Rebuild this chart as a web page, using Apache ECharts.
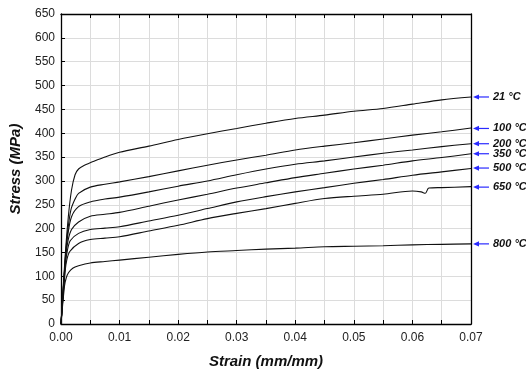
<!DOCTYPE html>
<html><head><meta charset="utf-8">
<script src="https://cdn.jsdelivr.net/npm/echarts@6/dist/echarts.min.js"></script>
<style>html,body{margin:0;padding:0;background:#fff}#c{width:526px;height:374px}</style>
</head><body><div id="c"></div>
<script>
const curveNames = ['21 °C','100 °C','200 °C','350 °C','500 °C','650 °C','800 °C'];
const c21 = [[0,0],[0.0007,140],[0.00125,225],[0.0018,281],[0.0024,313],[0.003,325],[0.004,333],[0.005,338],[0.0075,350],[0.01,360],[0.015,373],[0.02,387],[0.025,399],[0.03,410],[0.035,421],[0.04,431],[0.045,438],[0.05,446],[0.055,452],[0.06,461],[0.065,470],[0.07,476]];
const c100 = [[0,0],[0.0008,150],[0.0012,200],[0.0017,240],[0.0024,262],[0.003,274],[0.005,287],[0.0075,293],[0.01,298],[0.015,309],[0.02,321],[0.025,333],[0.03,344],[0.035,354],[0.04,365],[0.045,373],[0.05,380],[0.055,388],[0.06,396],[0.065,403],[0.07,411]];
const c200 = [[0,0],[0.0008,145],[0.0012,190],[0.0018,225],[0.003,246],[0.005,256],[0.0075,262],[0.01,266],[0.015,277],[0.02,289],[0.025,300],[0.03,313],[0.035,325],[0.04,335],[0.045,342],[0.05,350],[0.055,358],[0.06,365],[0.065,372],[0.07,378]];
const c350 = [[0,0],[0.0008,140],[0.0012,175],[0.0018,198],[0.003,214],[0.005,226],[0.0075,230],[0.01,234],[0.015,247],[0.02,260],[0.025,272],[0.03,285],[0.035,296],[0.04,307],[0.045,316],[0.05,325],[0.055,333],[0.06,342],[0.065,349],[0.07,357]];
const c500 = [[0,0],[0.0008,130],[0.0011,155],[0.0016,175],[0.003,190],[0.005,198],[0.0075,201],[0.01,204],[0.015,216],[0.02,228],[0.025,242],[0.03,256],[0.035,267],[0.04,277],[0.045,286],[0.05,295],[0.055,303],[0.06,312],[0.065,319],[0.07,326]];
const c650 = [[0,0],[0.0007,110],[0.001,135],[0.0015,152],[0.003,169],[0.005,177],[0.0075,180],[0.01,183],[0.015,195],[0.02,207],[0.025,221],[0.03,232],[0.035,242],[0.04,253],[0.045,263],[0.05,268],[0.055,272],[0.06,279],[0.0615,277],[0.0622,274],[0.0628,285],[0.065,286],[0.07,288]];
const c800 = [[0,0],[0.0006,80],[0.0009,97],[0.0013,108],[0.002,117],[0.003,122],[0.005,128],[0.0075,131],[0.01,134],[0.015,140],[0.02,146],[0.025,151],[0.03,154],[0.035,157],[0.04,159],[0.045,162],[0.05,163],[0.055,164],[0.06,166],[0.065,167],[0.07,168]];
const curves = [c21,c100,c200,c350,c500,c650,c800];
const labelValues = [476,410,378,357,327,287,168];

const chart = echarts.init(document.getElementById('c'), null, {renderer:'canvas'});
const font = 'Liberation Sans, Arial, sans-serif';
const lineSeries = curves.map((d,i)=>({
  type:'line', name:curveNames[i], data:d, showSymbol:false, symbol:'none',
  smooth:0.3,
  lineStyle:{color:'#111', width:1.1}, z:3, silent:true
}));
const labelSeries = {
  type:'custom', clip:false, silent:true, z:5,
  data: labelValues.map((v,i)=>[0.07, v, curveNames[i]]),
  renderItem:(params, api)=>{
    const p = api.coord([api.value(0), api.value(1)]);
    const x = p[0], y = p[1];
    const blue = '#2a2aff';
    return {type:'group', children:[
      {type:'line', shape:{x1:x+6, y1:y, x2:x+18, y2:y}, style:{stroke:blue, lineWidth:1.2}},
      {type:'polygon', shape:{points:[[x+2,y],[x+8,y-2.6],[x+8,y+2.6]]}, style:{fill:blue}},
      {type:'text', x:x+22, y:y, style:{text:curveNames[params.dataIndex], fill:'#111',
        font:'italic bold 11px '+font, verticalAlign:'middle', align:'left'}}
    ]};
  }
};
chart.setOption({
  animation:false,
  grid:{left:61, right:55, top:14, bottom:50, containLabel:false},
  xAxis:[{
    type:'value', min:0, max:0.07, interval:0.01, position:'bottom',
    name:'Strain (mm/mm)', nameLocation:'middle', nameGap:30,
    nameTextStyle:{fontFamily:font, fontSize:15, fontWeight:'bold', fontStyle:'italic', color:'#111'},
    axisLine:{show:true, onZero:false, lineStyle:{color:'#000', width:1.3}},
    axisTick:{show:true, inside:true, length:4, lineStyle:{color:'#000'}},
    minorTick:{show:true, splitNumber:2, length:4, lineStyle:{color:'#000'}},
    axisLabel:{fontFamily:font, fontSize:12, color:'#222', margin:8, formatter:v=>v.toFixed(2)},
    splitLine:{show:true, lineStyle:{color:'#dcdcdc', width:1}},
    minorSplitLine:{show:true, lineStyle:{color:'#dcdcdc', width:1}}
  },{
    type:'value', min:0, max:0.07, interval:0.01, position:'top',
    axisLine:{show:true, onZero:false, lineStyle:{color:'#000', width:1.3}},
    axisTick:{show:true, inside:true, length:4, lineStyle:{color:'#000'}},
    minorTick:{show:true, splitNumber:2, length:4, lineStyle:{color:'#000'}},
    axisLabel:{show:false}, splitLine:{show:false}
  }],
  yAxis:[{
    type:'value', min:0, max:650, interval:50, position:'left',
    name:'Stress (MPa)', nameLocation:'middle', nameGap:38,
    nameTextStyle:{fontFamily:font, fontSize:15, fontWeight:'bold', fontStyle:'italic', color:'#111'},
    axisLine:{show:true, onZero:false, lineStyle:{color:'#000', width:1.3}},
    axisTick:{show:true, inside:true, length:4, lineStyle:{color:'#000'}},
    axisLabel:{fontFamily:font, fontSize:12, color:'#222', margin:6},
    splitLine:{show:true, lineStyle:{color:'#dcdcdc', width:1}}
  },{
    type:'value', min:0, max:650, interval:50, position:'right',
    axisLine:{show:true, onZero:false, lineStyle:{color:'#000', width:1.3}},
    axisTick:{show:false}, axisLabel:{show:false}, splitLine:{show:false}
  }],
  series:[...lineSeries, labelSeries]
});
</script></body></html>
